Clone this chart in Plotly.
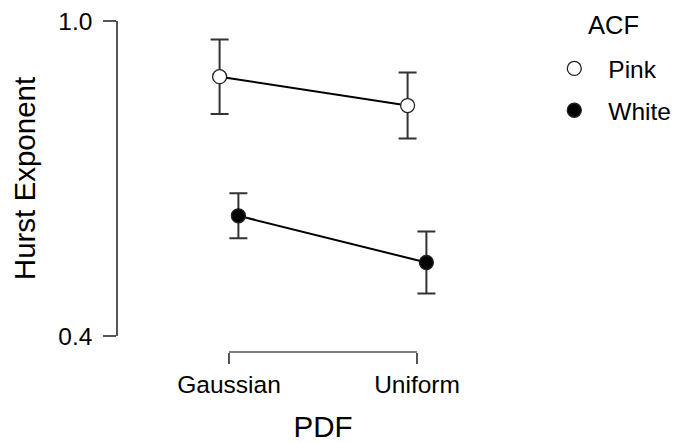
import plotly.graph_objects as go

categories = ["Gaussian", "Uniform"]
series_names = ["Pink", "White"]
legend_title = "ACF"
pink_mean = [0.894, 0.839]
pink_err = [0.071, 0.063]
white_mean = [0.629, 0.540]
white_err = [0.043, 0.059]
y_tickvals = [0.4, 1.0]
y_ticktext = ["0.4", "1.0"]

DODGE = 0.05
FONT = "Liberation Sans, Arial, sans-serif"
AXC = "#555555"

xi = list(range(len(categories)))
x_pink = [v - DODGE for v in xi]
x_white = [v + DODGE for v in xi]

fig = go.Figure()

for xs, ys, es, name, fill in [
    (x_pink, pink_mean, pink_err, series_names[0], "white"),
    (x_white, white_mean, white_err, series_names[1], "black"),
]:
    fig.add_trace(go.Scatter(
        x=xs, y=ys, mode="lines", showlegend=False,
        line=dict(color="black", width=2), hoverinfo="skip",
    ))
    fig.add_trace(go.Scatter(
        x=xs, y=ys, mode="markers", name=name, legendgroup=name,
        marker=dict(size=14, color=fill, line=dict(color="#222222", width=1.3)),
        error_y=dict(type="data", array=es, visible=True, color="#333333",
                     thickness=2, width=9),
    ))

fig.add_shape(type="line", xref="x", yref="paper", x0=xi[0], x1=xi[-1],
              y0=0, y1=0, line=dict(color=AXC, width=1.5))

# legend title (placed as annotation for exact spacing)
fig.add_annotation(text=legend_title, xref="paper", yref="paper",
                   x=(613 - 118) / 410, y=1 + (20.5 - 25) / 331.5,
                   xanchor="center", yanchor="middle", showarrow=False,
                   font=dict(size=25.5, color="black", family=FONT))

fig.update_layout(
    width=688, height=443,
    margin=dict(l=118, r=160, t=20.5, b=91, autoexpand=False),
    paper_bgcolor="white", plot_bgcolor="white",
    font=dict(family=FONT, size=24.5, color="black"),
    xaxis=dict(
        range=[-0.5904, 1.5904], tickvals=xi, ticktext=categories,
        ticks="outside", ticklen=11, tickwidth=1.5, tickcolor=AXC,
        showline=False, showgrid=False, zeroline=False,
        anchor="free", position=0, automargin=False,
        title=dict(text="PDF", font=dict(size=29.5), standoff=24),
    ),
    yaxis=dict(
        domain=[0.0483, 1], range=[0.4, 1.0], tickvals=y_tickvals,
        ticktext=y_ticktext, ticks="outside", ticklen=13, tickwidth=1.5,
        tickcolor=AXC, showline=True, linecolor=AXC, linewidth=1.5,
        showgrid=False, zeroline=False, automargin=False,
        ticklabelstandoff=6,
        title=dict(text="Hurst Exponent", font=dict(size=29.5), standoff=14),
    ),
    legend=dict(
        x=1.03, y=1 - (45.5 - 20.5) / 331.5, xanchor="left", yanchor="top",
        font=dict(size=24.5), itemwidth=58, tracegroupgap=7,
        traceorder="grouped", bgcolor="rgba(0,0,0,0)",
    ),
)

fig.write_html("out.html", config={"displayModeBar": False},
               post_script="document.body.style.margin='0';document.body.style.overflow='hidden';")
